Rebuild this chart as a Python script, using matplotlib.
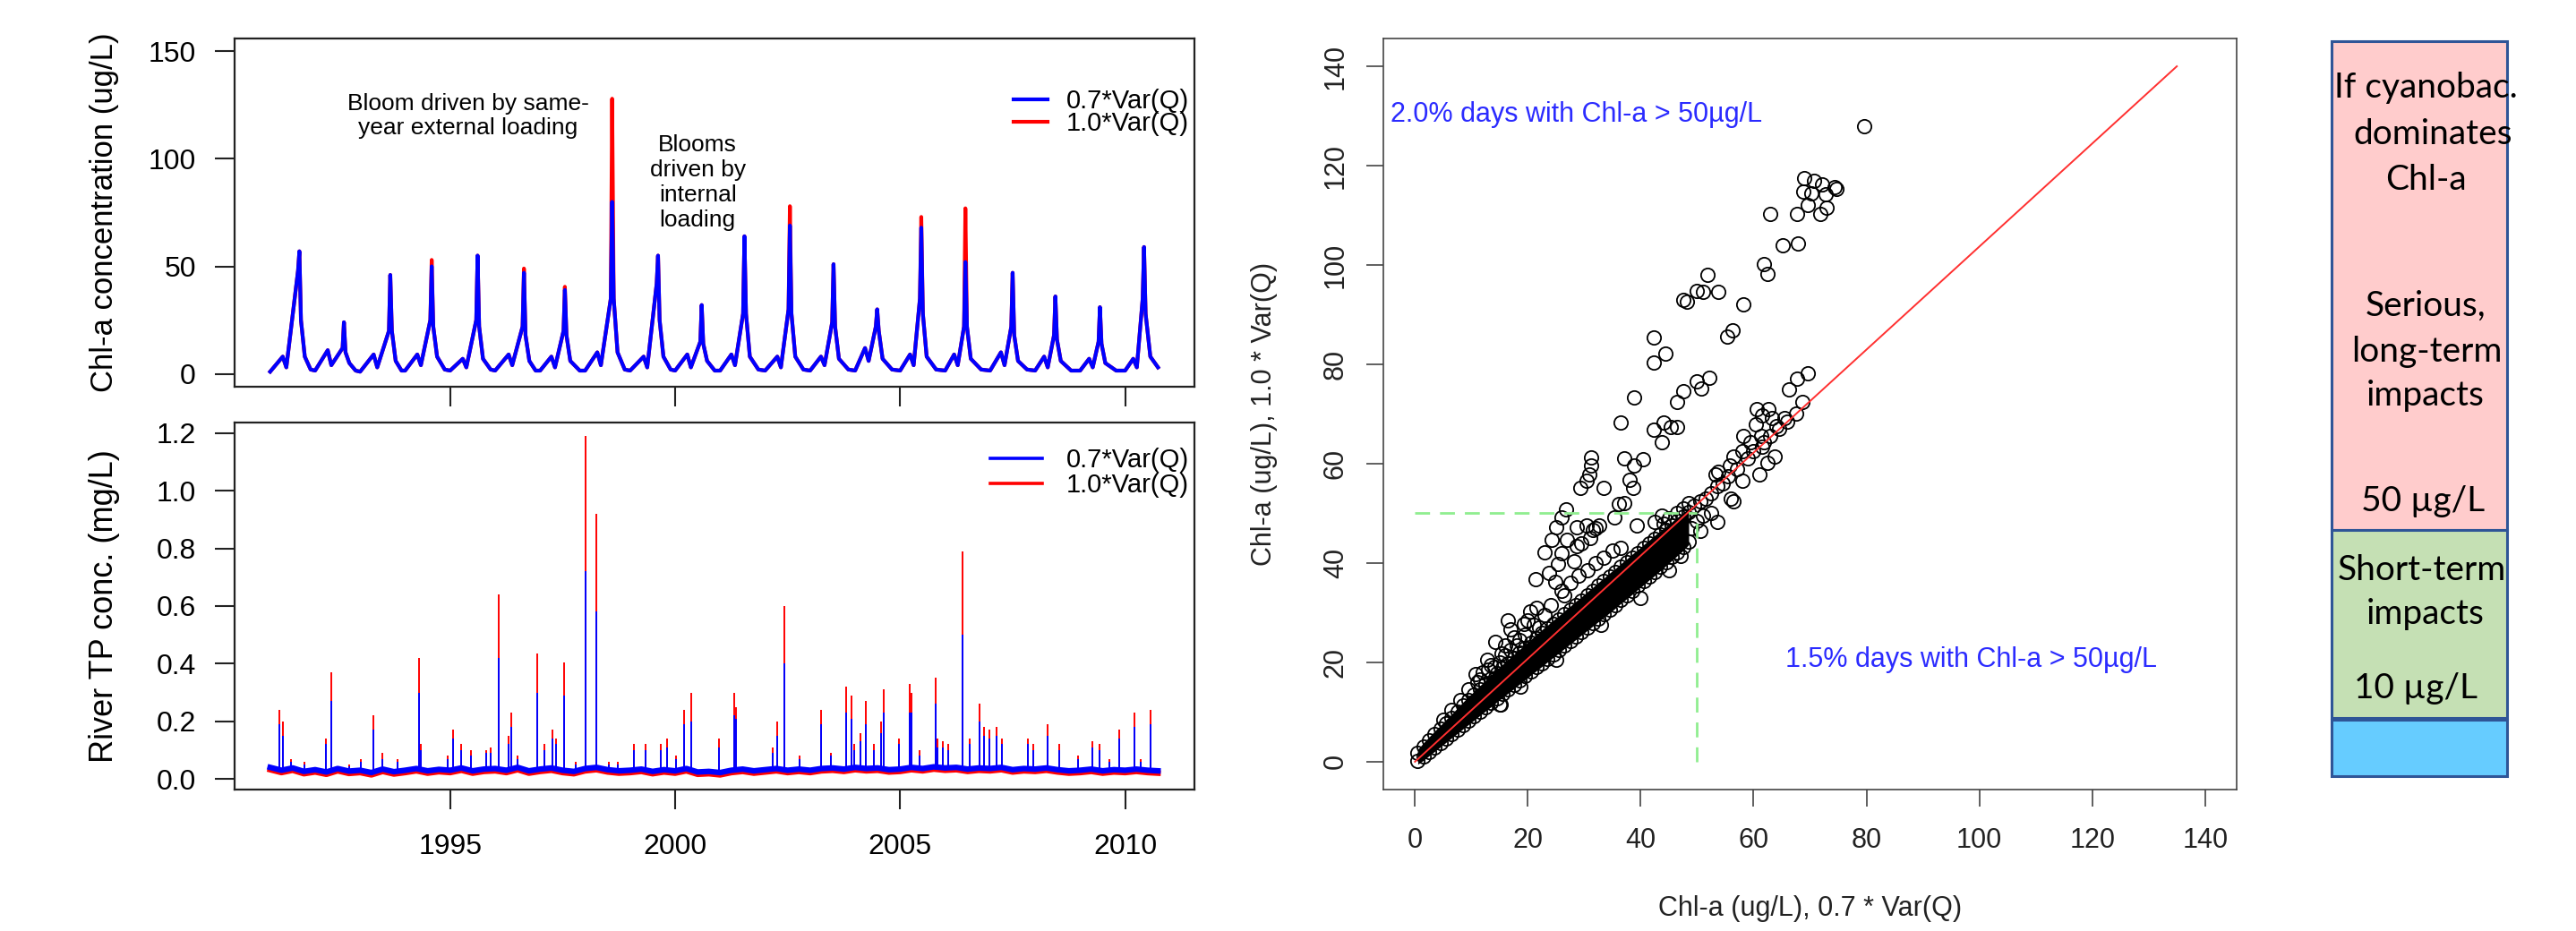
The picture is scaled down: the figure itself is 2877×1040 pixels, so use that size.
import numpy as np
import matplotlib.pyplot as plt
from matplotlib.patches import Rectangle

plt.rcParams['font.family'] = ['Liberation Sans', 'DejaVu Sans']

# ---------------- top panel: lake Chl-a (ug/L), key points
chl_time = [
    1991.00, 1991.28, 1991.36, 1991.62, 1991.65, 1991.685, 1991.77, 1991.90,
    1992.00, 1992.28, 1992.36, 1992.61, 1992.64, 1992.675, 1992.76, 1992.90,
    1993.00, 1993.30, 1993.38, 1993.64, 1993.67, 1993.705, 1993.79, 1993.92,
    1994.00, 1994.27, 1994.35, 1994.56, 1994.59, 1994.625, 1994.71, 1994.88,
    1995.00, 1995.28, 1995.36, 1995.58, 1995.61, 1995.645, 1995.73, 1995.90,
    1996.00, 1996.30, 1996.38, 1996.61, 1996.64, 1996.675, 1996.76, 1996.90,
    1997.00, 1997.25, 1997.33, 1997.52, 1997.55, 1997.585, 1997.67, 1997.88,
    1998.00, 1998.27, 1998.35, 1998.57, 1998.60, 1998.635, 1998.72, 1998.88,
    1999.00, 1999.30, 1999.38, 1999.59, 1999.62, 1999.655, 1999.74, 1999.90,
    2000.00, 2000.27, 2000.35, 2000.56, 2000.59, 2000.625, 2000.71, 2000.88,
    2001.00, 2001.25, 2001.33, 2001.51, 2001.54, 2001.575, 2001.66, 2001.85,
    2002.00, 2002.27, 2002.35, 2002.52, 2002.55, 2002.585, 2002.67, 2002.85,
    2003.00, 2003.24, 2003.32, 2003.49, 2003.52, 2003.555, 2003.64, 2003.85,
    2004.00, 2004.22, 2004.30, 2004.46, 2004.49, 2004.525, 2004.61, 2004.82,
    2005.00, 2005.22, 2005.30, 2005.44, 2005.47, 2005.505, 2005.59, 2005.80,
    2006.00, 2006.20, 2006.28, 2006.42, 2006.45, 2006.485, 2006.57, 2006.80,
    2007.00, 2007.24, 2007.32, 2007.47, 2007.50, 2007.535, 2007.62, 2007.82,
    2008.00, 2008.20, 2008.28, 2008.42, 2008.45, 2008.485, 2008.57, 2008.80,
    2009.00, 2009.20, 2009.28, 2009.41, 2009.44, 2009.475, 2009.56, 2009.80,
    2010.00, 2010.18, 2010.26, 2010.39, 2010.42, 2010.455, 2010.56, 2010.73,
]
chl_blue = [
    1.0, 8, 3, 48, 57, 25, 8, 2,
    1.5, 11, 4, 12, 24, 10, 5, 1.5,
    1.0, 9, 3, 20, 46, 20, 6, 1.5,
    1.5, 9, 4, 25, 50, 22, 8, 2,
    1.5, 7, 3, 25, 55, 22, 7, 2,
    1.5, 9, 4, 22, 47, 18, 6, 1.5,
    1.5, 8, 3, 20, 39, 18, 6, 1.5,
    1.5, 10, 4, 35, 80, 35, 10, 2,
    1.5, 8, 3, 42, 55, 25, 8, 2,
    1.5, 9, 3, 15, 32, 14, 6, 1.5,
    1.5, 9, 4, 28, 64, 28, 8, 2,
    1.5, 8, 3, 30, 69, 28, 8, 2,
    1.5, 8, 4, 24, 51, 22, 7, 2,
    1.5, 12, 6, 22, 30, 20, 7, 2,
    1.5, 9, 4, 35, 68, 28, 8, 2,
    1.5, 9, 4, 22, 52, 22, 7, 2,
    1.5, 10, 4, 22, 47, 18, 6, 2,
    1.5, 8, 3, 18, 36, 16, 6, 1.5,
    1.5, 7, 3, 15, 31, 14, 5, 1.5,
    1.5, 7, 3, 35, 59, 28, 8, 3,
]
# summer peaks under 1.0*Var(Q)
chl_red_peak = [57, 24, 46, 53, 55, 49, 40.5, 128, 55, 32,
                64, 78, 51, 30, 73, 77, 47, 36, 31, 59]

# ---------------- bottom panel: river TP (mg/L)
tp_spike_t = [
    1991.21, 1991.29, 1992.24, 1992.36, 1993.29, 1994.30, 1995.06, 1996.07,
    1996.35, 1996.93, 1997.53, 1998.01, 1998.24, 1999.82, 2000.20, 2000.35,
    2001.31, 2002.43, 2003.24, 2003.80, 2003.92, 2004.23, 2004.63, 2005.21,
    2005.78, 2006.38, 2006.76, 2009.87, 2010.20, 2010.56,
    1991.46, 1991.77, 1992.75, 1993.01, 1993.49, 1993.84, 1994.35, 1994.95,
    1995.25, 1995.47, 1995.81, 1995.90, 1996.29, 1996.50, 1997.10, 1997.27,
    1997.36, 1997.79, 1998.53, 1998.73, 1999.08, 1999.34, 1999.68, 2000.02,
    2000.97, 2001.36, 2002.17, 2002.26, 2002.77, 2003.46, 2003.98, 2004.11,
    2004.41, 2004.58, 2004.97, 2005.26, 2005.44, 2005.83, 2005.95, 2006.07,
    2006.55, 2006.86, 2006.98, 2007.15, 2007.27, 2007.84, 2007.96, 2008.27,
    2008.53, 2008.96, 2009.27, 2009.44, 2009.65, 2010.34,
]
tp_spike_red = [
    0.24, 0.20, 0.14, 0.37, 0.22, 0.42, 0.17, 0.64,
    0.23, 0.435, 0.405, 1.19, 0.92, 0.14, 0.24, 0.30,
    0.30, 0.60, 0.24, 0.32, 0.29, 0.27, 0.31, 0.33,
    0.35, 0.79, 0.26, 0.17, 0.23, 0.24,
    0.07, 0.06, 0.05, 0.07, 0.09, 0.07, 0.12, 0.08,
    0.12, 0.10, 0.10, 0.11, 0.15, 0.08, 0.12, 0.17,
    0.14, 0.06, 0.06, 0.06, 0.12, 0.12, 0.12, 0.08,
    0.14, 0.25, 0.11, 0.20, 0.08, 0.09, 0.12, 0.16,
    0.12, 0.20, 0.14, 0.30, 0.10, 0.14, 0.13, 0.12,
    0.14, 0.18, 0.17, 0.18, 0.14, 0.14, 0.12, 0.19,
    0.12, 0.08, 0.13, 0.12, 0.07, 0.07,
]
tp_spike_blue = [
    0.19, 0.15, 0.12, 0.27, 0.17, 0.30, 0.14, 0.42,
    0.18, 0.30, 0.29, 0.72, 0.58, 0.11, 0.19, 0.20,
    0.22, 0.40, 0.19, 0.23, 0.21, 0.19, 0.23, 0.23,
    0.26, 0.50, 0.20, 0.14, 0.18, 0.19,
    0.06, 0.05, 0.045, 0.06, 0.07, 0.06, 0.10, 0.07,
    0.10, 0.08, 0.09, 0.09, 0.12, 0.07, 0.10, 0.14,
    0.12, 0.05, 0.05, 0.05, 0.10, 0.10, 0.10, 0.07,
    0.11, 0.21, 0.09, 0.15, 0.07, 0.08, 0.10, 0.13,
    0.10, 0.16, 0.12, 0.23, 0.08, 0.11, 0.11, 0.10,
    0.12, 0.15, 0.14, 0.15, 0.12, 0.12, 0.10, 0.15,
    0.10, 0.07, 0.11, 0.10, 0.06, 0.06,
]
tp_base_t = [
    1991.0, 1991.25, 1991.5, 1991.75, 1992.0, 1992.25, 1992.5, 1992.75,
    1993.0, 1993.25, 1993.5, 1993.75, 1994.0, 1994.25, 1994.5, 1994.75,
    1995.0, 1995.25, 1995.5, 1995.75, 1996.0, 1996.25, 1996.5, 1996.75,
    1997.0, 1997.25, 1997.5, 1997.75, 1998.0, 1998.25, 1998.5, 1998.75,
    1999.0, 1999.25, 1999.5, 1999.75, 2000.0, 2000.25, 2000.5, 2000.75,
    2001.0, 2001.25, 2001.5, 2001.75, 2002.0, 2002.25, 2002.5, 2002.75,
    2003.0, 2003.25, 2003.5, 2003.75, 2004.0, 2004.25, 2004.5, 2004.75,
    2005.0, 2005.25, 2005.5, 2005.75, 2006.0, 2006.25, 2006.5, 2006.75,
    2007.0, 2007.25, 2007.5, 2007.75, 2008.0, 2008.25, 2008.5, 2008.75,
    2009.0, 2009.25, 2009.5, 2009.75, 2010.0, 2010.25, 2010.5, 2010.73,
]
tp_base_blue = [
    0.040, 0.030, 0.038, 0.026, 0.032, 0.024, 0.036, 0.027,
    0.030, 0.022, 0.034, 0.025, 0.030, 0.036, 0.028, 0.033,
    0.030, 0.038, 0.028, 0.034, 0.036, 0.030, 0.040, 0.028,
    0.034, 0.038, 0.030, 0.026, 0.036, 0.040, 0.032, 0.028,
    0.030, 0.034, 0.026, 0.032, 0.028, 0.036, 0.024, 0.026,
    0.022, 0.030, 0.034, 0.028, 0.032, 0.036, 0.030, 0.034,
    0.030, 0.036, 0.038, 0.034, 0.040, 0.036, 0.038, 0.032,
    0.034, 0.040, 0.036, 0.042, 0.038, 0.040, 0.034, 0.038,
    0.036, 0.040, 0.032, 0.036, 0.034, 0.038, 0.032, 0.028,
    0.030, 0.034, 0.028, 0.032, 0.030, 0.034, 0.030, 0.028,
]
tp_base_red = [
    0.032, 0.022, 0.030, 0.018, 0.024, 0.016, 0.028, 0.019,
    0.022, 0.014, 0.026, 0.017, 0.022, 0.028, 0.020, 0.025,
    0.022, 0.030, 0.020, 0.026, 0.028, 0.022, 0.032, 0.020,
    0.026, 0.030, 0.022, 0.018, 0.028, 0.032, 0.024, 0.020,
    0.022, 0.026, 0.018, 0.024, 0.020, 0.028, 0.016, 0.018,
    0.014, 0.022, 0.026, 0.020, 0.024, 0.028, 0.022, 0.026,
    0.022, 0.028, 0.030, 0.026, 0.032, 0.028, 0.030, 0.024,
    0.026, 0.032, 0.028, 0.034, 0.030, 0.032, 0.026, 0.030,
    0.028, 0.032, 0.024, 0.028, 0.026, 0.030, 0.024, 0.020,
    0.022, 0.026, 0.020, 0.024, 0.022, 0.026, 0.022, 0.020,
]

# ---------------- scatter: Chl-a under 0.7*Var(Q) vs 1.0*Var(Q)
# dense band (lower / upper edge of the black cloud)
band_x = [0.5, 1.5, 2.5, 3.5, 4.5, 5.5, 6.5, 7.5, 8.5, 9.5,
          10.5, 11.5, 12.5, 13.5, 14.5, 15.5, 16.5, 17.5, 18.5, 19.5,
          20.5, 21.5, 22.5, 23.5, 24.5, 25.5, 26.5, 27.5, 28.5, 29.5,
          30.5, 31.5, 32.5, 33.5, 34.5, 35.5, 36.5, 37.5, 38.5, 39.5,
          40.5, 41.5, 42.5, 43.5, 44.5, 45.5, 46.5, 47.5, 48.5]
band_lo = [0.2, 1.0, 1.9, 2.8, 3.7, 4.6, 5.5, 6.4, 7.3, 8.2,
           9.1, 10.0, 10.9, 11.8, 12.7, 13.6, 14.5, 15.4, 16.3, 17.2,
           18.1, 19.0, 19.9, 20.8, 21.7, 22.6, 23.5, 24.4, 25.3, 26.2,
           27.1, 28.0, 28.9, 29.8, 30.7, 31.6, 32.6, 33.5, 34.4, 35.4,
           36.3, 37.3, 38.2, 39.2, 40.2, 41.2, 42.2, 43.2, 44.4]
band_hi = [1.8, 3.1, 4.3, 5.5, 6.6, 7.8, 8.9, 10.1, 11.3, 12.4,
           13.5, 14.6, 15.7, 16.8, 17.9, 18.9, 19.9, 20.9, 21.9, 22.9,
           23.9, 24.9, 25.9, 26.8, 27.8, 28.7, 29.7, 30.6, 31.6, 32.5,
           33.5, 34.4, 35.4, 36.3, 37.3, 38.2, 39.2, 40.1, 41.1, 42.0,
           43.0, 43.9, 44.9, 45.8, 46.7, 47.6, 48.5, 49.4, 50.3]
# individual circles outside the band
pts_x = [79.6, 69.0, 70.7, 72.1, 74.7, 74.3, 68.8, 70.2, 72.7, 69.6, 73.0, 71.9, 67.7, 63.0,
         67.9, 65.2, 61.9, 62.4, 51.9, 58.2, 49.9, 51.0, 53.8, 47.6, 48.2, 56.3, 55.4, 42.3,
         44.3, 42.3, 69.6, 67.7, 66.2, 68.6, 49.9, 52.1, 50.8, 47.6, 46.5, 38.9, 36.4, 42.3,
         44.0, 45.4, 46.5, 43.7, 40.4, 37.1, 38.9, 38.1, 38.7, 31.2, 31.2, 30.9, 30.4, 29.3,
         33.5, 36.2, 37.1, 35.4, 32.6, 31.5, 28.7, 26.7, 25.9, 25.0, 24.3, 27.0, 28.7, 22.9,
         25.4, 23.7, 24.8, 25.9, 21.3, 20.4, 19.3, 17.0, 16.5, 14.2, 15.4, 12.8, 28.2, 30.4,
         32.0, 39.3, 42.4, 43.7,
         58.0, 61.0, 63.8, 62.4, 56.0, 56.5, 52.4, 53.5,
         60.6, 61.5, 62.7, 63.2, 60.4, 61.3, 61.9, 59.5, 58.2, 58.0, 56.5, 55.8, 53.7, 53.2,
         65.4, 64.0,
         49.5, 50.5, 51.5, 52.5, 53.5, 54.5, 55.5, 57.0, 59.0, 60.0, 61.5, 63.0, 64.5, 66.0,
         67.5, 48.5, 47.5, 46.5, 45.0, 44.0, 49.0, 50.0, 51.0, 50.5,
         5.0, 6.5, 8.0, 9.5, 11.0, 12.0, 13.5, 15.0, 16.0, 17.5, 18.5, 20.0, 21.5, 22.0,
         23.0, 24.0, 26.5, 27.5, 29.0, 30.5, 32.0, 33.5, 35.0, 36.5, 26.0, 29.5, 31.0,
         10.7, 11.5, 13.0, 14.0, 16.0, 17.0, 18.0, 19.5, 21.0,
         15.0, 15.2, 18.7, 25.0, 33.0, 40.0, 45.0, 47.0]
pts_y = [128.0, 117.5, 117.0, 116.3, 115.4, 115.7, 114.8, 114.4, 114.2, 112.0, 111.5, 110.3, 110.2, 110.3,
         104.3, 104.0, 100.1, 98.2, 98.0, 92.0, 94.7, 94.6, 94.6, 93.0, 92.6, 86.9, 85.6, 85.4,
         82.1, 80.3, 78.2, 77.2, 74.9, 72.4, 76.6, 77.3, 75.2, 74.6, 72.4, 73.4, 68.2, 66.8,
         68.3, 67.4, 67.4, 64.4, 60.9, 61.0, 59.6, 56.8, 55.2, 61.2, 59.6, 57.8, 56.6, 55.2,
         55.2, 51.8, 52.0, 49.2, 47.6, 46.6, 47.2, 50.8, 49.2, 47.2, 44.6, 44.6, 43.4, 42.2,
         39.8, 38.0, 36.2, 34.4, 36.8, 30.2, 27.8, 26.6, 28.4, 24.2, 21.8, 20.6, 40.4, 47.6,
         47.0, 47.6, 48.2, 49.6,
         56.6, 57.8, 61.4, 60.2, 53.0, 52.4, 50.0, 48.2,
         71.0, 69.8, 71.0, 69.2, 68.0, 65.6, 64.4, 64.4, 65.6, 62.6, 61.4, 59.6, 58.4, 57.8,
         69.2, 67.6,
         51.5, 52.5, 53.0, 54.0, 55.5, 56.0, 57.5, 59.0, 61.0, 62.5, 63.5, 65.5, 67.0, 68.5,
         70.0, 52.0, 51.0, 50.0, 49.0, 48.0, 47.0, 48.5, 49.5, 46.5,
         8.5, 10.5, 12.5, 14.5, 16.0, 18.0, 19.5, 20.0, 23.5, 25.0, 24.5, 28.5, 31.0, 27.0,
         29.5, 31.5, 33.5, 36.0, 37.5, 38.5, 40.0, 41.0, 42.5, 43.0, 42.0, 44.0, 45.0,
         17.6, 16.5, 18.5, 19.0, 21.5, 22.5, 23.5, 25.5, 27.5,
         11.5, 11.6, 15.2, 20.5, 27.5, 33.0, 38.5, 41.5]
fit_x = [0, 135]
fit_y = [0, 140]
threshold = 50

# ---------------- impact bar (right)
bar_labels = ['If cyanobac.', 'dominates', 'Chl-a', 'Serious,', 'long-term', 'impacts',
              '50 \u00b5g/L', 'Short-term', 'impacts', '10 \u00b5g/L']

BLUE = '#0000FF'
RED = '#FF0000'

fig = plt.figure(figsize=(28.77, 10.4), dpi=100)
W, H = 2877, 1040


def px_axes(l, t, r, b):
    return fig.add_axes([l / W, 1 - b / H, (r - l) / W, (b - t) / H])


def style_ts(ax):
    for s in ax.spines.values():
        s.set_linewidth(1.6)
        s.set_color('#222222')
    ax.tick_params(direction='out', length=16, width=1.5, labelsize=23, pad=15,
                   color='#222222')
    ax.set_xlim(1990.21, 2011.54)
    ax.set_xticks([1995, 2000, 2005, 2010])


# ---- top time series
ax1 = px_axes(262, 43, 1334, 432)
chl_red = list(chl_blue)
for i, v in enumerate(chl_red_peak):
    chl_red[8 * i + 4] = v
ax1.plot(chl_time, chl_red, color=RED, lw=3, label='1.0*Var(Q)')
ax1.plot(chl_time, chl_blue, color=BLUE, lw=3, label='0.7*Var(Q)')
style_ts(ax1)
ax1.set_ylim(-6, 156)
ax1.set_yticks([0, 50, 100, 150])
ax1.tick_params(axis='x', labelbottom=False)
ax1.set_ylabel('Chl-a concentration (ug/L)', fontsize=25)
ax1.yaxis.set_label_coords(-0.136, 0.5)
ax1.yaxis.label.set_va('center')
ax1.text(1995.4, 120, 'Bloom driven by same-\nyear external loading', fontsize=19,
         ha='center', va='center', linespacing=1.2)
ax1.text(2000.5, 89, 'Blooms\ndriven by\ninternal\nloading', fontsize=19,
         ha='center', va='center', linespacing=1.2)
h, l = ax1.get_legend_handles_labels()
ax1.legend(h[::-1], l[::-1], loc='upper right', bbox_to_anchor=(1.005, 0.885),
           frameon=False, fontsize=21, handlelength=1.3, handletextpad=0.7,
           labelspacing=-0.1, borderaxespad=0)

# ---- bottom time series
ax2 = px_axes(262, 472, 1334, 882)
ax2.plot(tp_base_t, tp_base_red, color=RED, lw=4.5)
ax2.vlines(tp_spike_t, 0.03, tp_spike_red, color=RED, lw=1.4)
ax2.plot(tp_base_t, tp_base_blue, color=BLUE, lw=4.5)
ax2.vlines(tp_spike_t, 0.03, tp_spike_blue, color=BLUE, lw=1.4)
ax2.plot([], [], color=BLUE, lw=2.6, label='0.7*Var(Q)')
ax2.plot([], [], color=RED, lw=2.6, label='1.0*Var(Q)')
style_ts(ax2)
ax2.set_ylim(-0.037, 1.237)
ax2.set_yticks([0.0, 0.2, 0.4, 0.6, 0.8, 1.0, 1.2])
ax2.set_yticklabels(['0.0', '0.2', '0.4', '0.6', '0.8', '1.0', '1.2'])
ax2.tick_params(axis='x', pad=19)
ax2.set_ylabel('River TP conc. (mg/L)', fontsize=26)
ax2.yaxis.set_label_coords(-0.136, 0.5)
ax2.yaxis.label.set_va('center')
ax2.legend(loc='upper right', bbox_to_anchor=(1.005, 0.96), frameon=False,
           fontsize=21, handlelength=2.0, handletextpad=0.9, labelspacing=0.0,
           borderaxespad=0)

# ---- scatter
ax3 = px_axes(1545, 43, 2498, 882)
band_lo_fill = [v - 0.7 for v in band_lo]
band_hi_fill = [v + 0.7 for v in band_hi]
ax3.fill_between(band_x, band_lo_fill, band_hi_fill, color='black', lw=0)
ax3.plot(band_x, band_lo, 'o', mfc='none', mec='black', ms=11, mew=1.3)
ax3.plot(band_x, band_hi, 'o', mfc='none', mec='black', ms=11, mew=1.3)
ax3.plot(pts_x, pts_y, 'o', mfc='none', mec='black', ms=11, mew=1.3)
ax3.plot(fit_x, fit_y, color='#FF3030', lw=1.4)
ax3.plot([0, threshold], [threshold, threshold], color='#90EE90', lw=2, dashes=(6, 4))
ax3.plot([threshold, threshold], [0, threshold], color='#90EE90', lw=2, dashes=(6, 4))
ax3.set_xlim(-5.6, 145.6)
ax3.set_ylim(-5.6, 145.6)
ax3.set_xticks(range(0, 141, 20))
ax3.set_yticks(range(0, 141, 20))
for s in ax3.spines.values():
    s.set_linewidth(1.2)
    s.set_color('#444444')
ax3.tick_params(direction='out', length=13.5, width=1.2, labelsize=22, color='#444444',
                labelcolor='#222222')
ax3.tick_params(axis='x', pad=17)
ax3.tick_params(axis='y', pad=14)
for t in ax3.get_yticklabels():
    t.set_rotation(90)
    t.set_va('center')
ax3.set_xlabel('Chl-a (ug/L), 0.7 * Var(Q)', fontsize=22, color='#222222')
ax3.set_ylabel('Chl-a (ug/L), 1.0 * Var(Q)', fontsize=22, color='#222222')
ax3.xaxis.set_label_coords(0.5, -0.158)
ax3.xaxis.label.set_va('center')
ax3.yaxis.set_label_coords(-0.14, 0.5)
ax3.yaxis.label.set_va('center')
ax3.text(-4.3, 130.3, '2.0% days with Chl-a > 50\u00b5g/L', color='#2B2BFF', fontsize=22,
         ha='left', va='center')
ax3.text(65.6, 20.5, '1.5% days with Chl-a > 50\u00b5g/L', color='#2B2BFF', fontsize=22,
         ha='left', va='center')

# ---- impact bar (pixel coordinates)
ax4 = px_axes(2604, 46, 2800, 867)
ax4.set_xlim(2604, 2800)
ax4.set_ylim(867, 46)
ax4.axis('off')
edge = '#2F5597'
ax4.add_patch(Rectangle((2604, 46), 196, 546, fc='#FFCCCC', ec=edge, lw=2.2, clip_on=False))
ax4.add_patch(Rectangle((2604, 592), 196, 210, fc='#C5E0B4', ec=edge, lw=2.2, clip_on=False))
ax4.add_patch(Rectangle((2604, 804), 196, 63, fc='#66CCFF', ec=edge, lw=2.2, clip_on=False))
label_y = [98, 150, 201, 342, 393, 442, 560, 637, 686, 769]
label_x = [2709, 2717, 2709, 2709, 2710, 2709, 2706, 2705, 2709, 2698]
for txt, x, y in zip(bar_labels, label_x, label_y):
    ax4.text(x, y, txt, fontsize=28, family=['Lato', 'DejaVu Sans'], ha='center',
             va='center', clip_on=False)

fig.savefig('out.png', dpi=100)
